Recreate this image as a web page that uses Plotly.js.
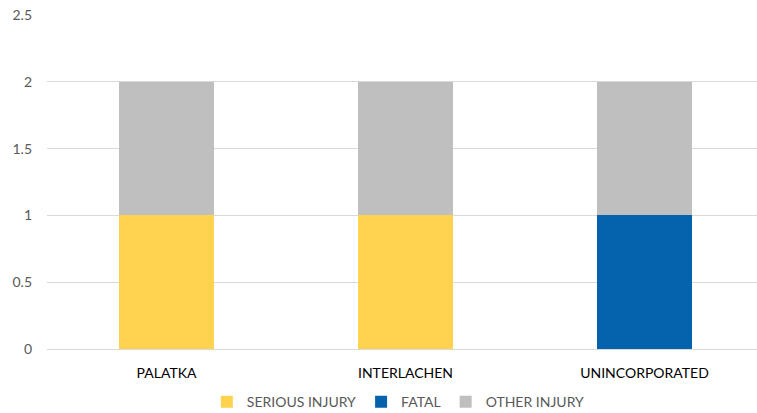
<!DOCTYPE html>
<html><head><meta charset="utf-8">
<script src="https://cdn.plot.ly/plotly-3.0.1.min.js"></script>
<style>html,body{margin:0;padding:0;overflow:hidden;background:#fff}</style>
</head><body><div id="chart"></div>
<script>
const categories = ["PALATKA", "INTERLACHEN", "UNINCORPORATED"];
const seriousInjury = [1, 1, 0];
const fatal = [0, 0, 1];
const otherInjury = [1, 1, 1];
const yTicks = [0, 0.5, 1, 1.5, 2, 2.5];
const yTickText = ["0", "0.5", "1", "1.5", "2", "2.5"];

const font = "Lato, 'Open Sans', sans-serif";
const traces = [
  {type:'bar', name:'SERIOUS INJURY', x:categories, y:seriousInjury, marker:{color:'#FFD24F'}},
  {type:'bar', name:'FATAL', x:categories, y:fatal, marker:{color:'#0563AD'}},
  {type:'bar', name:'OTHER INJURY', x:categories, y:otherInjury, marker:{color:'#BFBFBF'}}
];
const layout = {
  width: 765, height: 430,
  margin:{l:47, r:1, t:15, b:81},
  barmode:'stack', bargap:0.6,
  paper_bgcolor:'#fff', plot_bgcolor:'#fff',
  font:{family:font, size:13, color:'#595959'},
  showlegend:true,
  legend:{orientation:'h', x:0.49, xanchor:'center', y:-0.159, yanchor:'middle',
          font:{family:font, size:14, color:'#595959'}, traceorder:'normal', itemwidth:30},
  xaxis:{type:'category', showgrid:false, zeroline:false, showline:false, ticks:'',
         tickfont:{family:font, size:14, color:'#000'}, ticklabelstandoff:14},
  yaxis:{range:[0,2.5], tickvals:yTicks, ticktext:yTickText, showgrid:true, gridcolor:'#D9D9D9', gridwidth:1,
         zeroline:true, zerolinecolor:'#D9D9D9', zerolinewidth:1, showline:false, ticks:'',
         tickfont:{family:font, size:14, color:'#595959'}, ticklabelstandoff:14}
};
Plotly.newPlot('chart', traces, layout, {displayModeBar:false, staticPlot:true});
</script></body></html>
